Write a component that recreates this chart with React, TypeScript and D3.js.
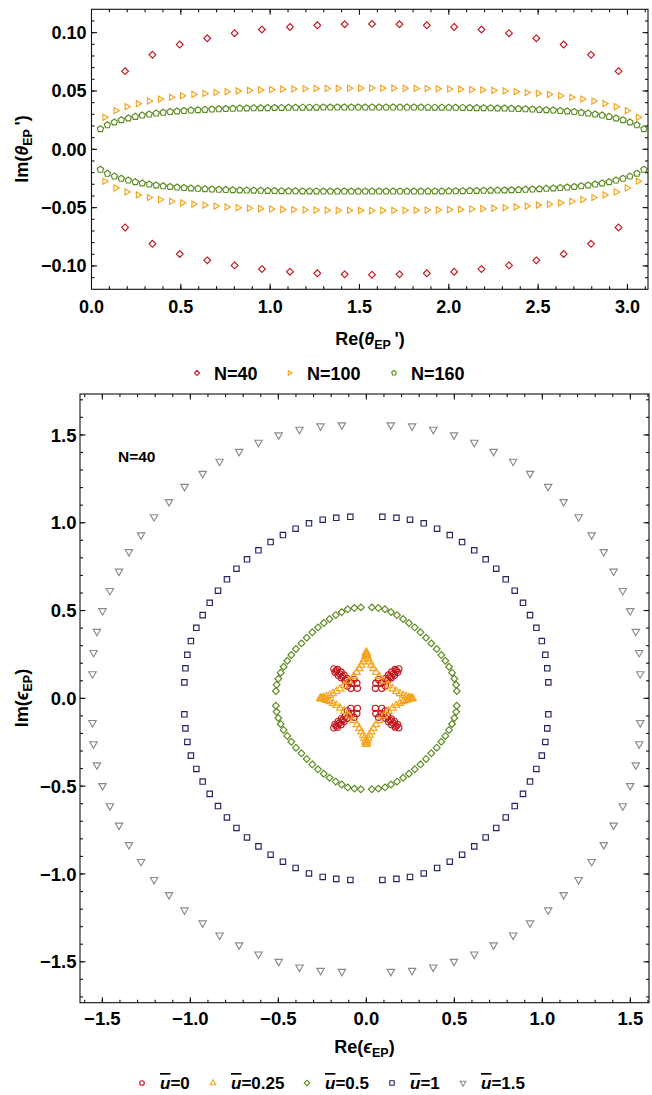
import React from 'react';
import * as d3 from 'd3';

const W = 652;
const H = 1095;
const FONT = '"Liberation Sans", Arial, Helvetica, sans-serif';

const RED = '#c4161c';
const ORANGE = '#f5a31c';
const GREEN = '#5a8a1f';
const NAVY = '#232562';
const GRAY = '#8a8a8a';

// ---------- Top chart: Re/Im of theta_EP' (upper branch; lower branch is the complex conjugate) ----------
const n40Re = [0.188, 0.341, 0.494, 0.648, 0.801, 0.954, 1.111, 1.264, 1.417, 1.570, 1.724, 1.877, 2.030, 2.183, 2.337, 2.490, 2.643, 2.796, 2.950];
const n40Im = [0.0670, 0.0810, 0.0898, 0.0952, 0.0995, 0.1027, 0.1049, 0.1063, 0.1072, 0.1075, 0.1072, 0.1063, 0.1049, 0.1027, 0.0995, 0.0952, 0.0898, 0.0810, 0.0670];

const n100Re = [0.077, 0.139, 0.201, 0.264, 0.326, 0.388, 0.450, 0.512, 0.575, 0.637, 0.699, 0.761, 0.823, 0.886, 0.948, 1.010, 1.072, 1.134, 1.197, 1.259, 1.321, 1.383, 1.446, 1.508, 1.570, 1.632, 1.694, 1.757, 1.819, 1.881, 1.943, 2.006, 2.068, 2.130, 2.192, 2.254, 2.317, 2.379, 2.441, 2.503, 2.565, 2.628, 2.690, 2.752, 2.814, 2.876, 2.939, 3.001, 3.063];
const n100Im = [0.0274, 0.0331, 0.0365, 0.0391, 0.0413, 0.0431, 0.0446, 0.0459, 0.0470, 0.0479, 0.0487, 0.0494, 0.0500, 0.0505, 0.0509, 0.0512, 0.0515, 0.0517, 0.0519, 0.0521, 0.0522, 0.0523, 0.0524, 0.0524, 0.0525, 0.0524, 0.0524, 0.0523, 0.0522, 0.0521, 0.0519, 0.0517, 0.0515, 0.0512, 0.0509, 0.0505, 0.0500, 0.0494, 0.0487, 0.0479, 0.0470, 0.0459, 0.0446, 0.0431, 0.0413, 0.0391, 0.0365, 0.0331, 0.0274];

const n160Re = [0.050, 0.089, 0.128, 0.167, 0.206, 0.245, 0.284, 0.323, 0.362, 0.401, 0.440, 0.479, 0.518, 0.557, 0.596, 0.635, 0.674, 0.713, 0.752, 0.791, 0.830, 0.869, 0.908, 0.947, 0.986, 1.025, 1.064, 1.103, 1.142, 1.181, 1.220, 1.259, 1.298, 1.337, 1.376, 1.415, 1.454, 1.493, 1.532, 1.571, 1.610, 1.649, 1.688, 1.727, 1.766, 1.805, 1.844, 1.883, 1.922, 1.961, 2.000, 2.039, 2.078, 2.117, 2.156, 2.195, 2.234, 2.273, 2.312, 2.351, 2.390, 2.429, 2.468, 2.507, 2.546, 2.585, 2.624, 2.663, 2.702, 2.741, 2.780, 2.819, 2.858, 2.897, 2.936, 2.975, 3.014, 3.053, 3.092];
const n160Im = [0.0174, 0.0208, 0.0232, 0.0251, 0.0266, 0.0280, 0.0291, 0.0300, 0.0308, 0.0315, 0.0321, 0.0326, 0.0330, 0.0334, 0.0337, 0.0340, 0.0343, 0.0345, 0.0347, 0.0349, 0.0351, 0.0352, 0.0353, 0.0354, 0.0355, 0.0356, 0.0357, 0.0358, 0.0358, 0.0359, 0.0359, 0.0359, 0.0360, 0.0360, 0.0360, 0.0360, 0.0360, 0.0360, 0.0360, 0.0360, 0.0360, 0.0360, 0.0360, 0.0360, 0.0360, 0.0360, 0.0360, 0.0359, 0.0359, 0.0359, 0.0358, 0.0358, 0.0357, 0.0356, 0.0355, 0.0354, 0.0353, 0.0352, 0.0351, 0.0349, 0.0347, 0.0345, 0.0343, 0.0340, 0.0337, 0.0334, 0.0330, 0.0326, 0.0321, 0.0315, 0.0308, 0.0300, 0.0291, 0.0280, 0.0266, 0.0251, 0.0232, 0.0208, 0.0174];

const topXTicks = [0, 0.5, 1, 1.5, 2, 2.5, 3];
const topXTickLabels = ['0.0', '0.5', '1.0', '1.5', '2.0', '2.5', '3.0'];
const topYTicks = [-0.1, -0.05, 0, 0.05, 0.1];
const topYTickLabels = ['\u22120.10', '\u22120.05', '0.00', '0.05', '0.10'];
const topLegend = ['N=40', 'N=100', 'N=160'];

// ---------- Bottom chart: eps_EP in the complex plane (first quadrant; spectrum symmetric under eps -> -eps, eps -> eps*) ----------
const u0Q: [number, number][] = [
  [0.098, 0.094], [0.110, 0.114], [0.121, 0.103], [0.126, 0.133], [0.142, 0.117], [0.135, 0.125],
  [0.144, 0.150], [0.160, 0.131], [0.153, 0.141], [0.164, 0.164], [0.178, 0.148], [0.171, 0.157], [0.185, 0.168],
  [0.054, 0.086], [0.083, 0.086], [0.051, 0.057], [0.088, 0.057], [0.069, 0.108], [0.108, 0.071],
];
const u025Q: [number, number][] = [
  [0.262, 0.001], [0.253, 0.002], [0.241, 0.005], [0.226, 0.011], [0.209, 0.018], [0.190, 0.028], [0.170, 0.040], [0.149, 0.055], [0.126, 0.073], [0.099, 0.099],
  [0.073, 0.126], [0.055, 0.149], [0.040, 0.170], [0.028, 0.190], [0.018, 0.209], [0.011, 0.226], [0.005, 0.241], [0.002, 0.253], [0.001, 0.262],
];
const u05Q: [number, number][] = [
  [0.031, 0.518], [0.068, 0.514], [0.106, 0.507], [0.140, 0.491], [0.174, 0.474], [0.209, 0.452], [0.242, 0.429], [0.275, 0.404], [0.307, 0.376], [0.339, 0.345],
  [0.369, 0.313], [0.400, 0.281], [0.426, 0.247], [0.449, 0.214], [0.470, 0.180], [0.487, 0.146], [0.500, 0.112], [0.510, 0.077], [0.514, 0.042],
];
const u1Q: [number, number][] = [
  [1.034, 0.091], [1.028, 0.171], [1.017, 0.248], [0.997, 0.326], [0.966, 0.402], [0.930, 0.474], [0.890, 0.544], [0.843, 0.613], [0.792, 0.678], [0.738, 0.738],
  [0.678, 0.792], [0.613, 0.843], [0.544, 0.890], [0.474, 0.930], [0.402, 0.966], [0.326, 0.997], [0.248, 1.017], [0.171, 1.028], [0.091, 1.034],
];
const u15Q: [number, number][] = [
  [1.556, 0.139], [1.550, 0.260], [1.531, 0.380], [1.499, 0.498], [1.457, 0.613], [1.405, 0.723], [1.349, 0.834], [1.280, 0.930], [1.206, 1.033], [1.121, 1.119],
  [1.033, 1.206], [0.930, 1.280], [0.834, 1.349], [0.723, 1.405], [0.613, 1.457], [0.498, 1.499], [0.380, 1.531], [0.260, 1.550], [0.139, 1.556],
];

const botTicks = [-1.5, -1, -0.5, 0, 0.5, 1, 1.5];
const botTickLabels = ['\u22121.5', '\u22121.0', '\u22120.5', '0.0', '0.5', '1.0', '1.5'];
const botLegend = ['0', '0.25', '0.5', '1', '1.5'];

type Shape = 'diamond' | 'triRight' | 'pentagon' | 'circle' | 'triUp' | 'square' | 'triDown';

function shapePath(shape: Shape, x: number, y: number, s: number): string {
  const p = d3.path();
  if (shape === 'diamond') {
    p.moveTo(x, y - s); p.lineTo(x + s, y); p.lineTo(x, y + s); p.lineTo(x - s, y); p.closePath();
  } else if (shape === 'triRight') {
    p.moveTo(x - 0.75 * s, y - s); p.lineTo(x + 0.95 * s, y); p.lineTo(x - 0.75 * s, y + s); p.closePath();
  } else if (shape === 'pentagon') {
    for (let k = 0; k < 5; k++) {
      const a = -Math.PI / 2 + (k * 2 * Math.PI) / 5;
      const px = x + s * Math.cos(a), py = y + s * Math.sin(a);
      if (k === 0) p.moveTo(px, py); else p.lineTo(px, py);
    }
    p.closePath();
  } else if (shape === 'circle') {
    p.moveTo(x + s, y); p.arc(x, y, s, 0, 2 * Math.PI);
  } else if (shape === 'triUp') {
    p.moveTo(x, y - 1.15 * s); p.lineTo(x + s, y + 0.6 * s); p.lineTo(x - s, y + 0.6 * s); p.closePath();
  } else if (shape === 'square') {
    p.rect(x - s, y - s, 2 * s, 2 * s);
  } else {
    p.moveTo(x - s, y - 0.6 * s); p.lineTo(x + s, y - 0.6 * s); p.lineTo(x, y + 1.15 * s); p.closePath();
  }
  return p.toString();
}

function Marker({ shape, x, y, s, color, sw = 1.15 }: { shape: Shape; x: number; y: number; s: number; color: string; sw?: number }) {
  return <path d={shapePath(shape, x, y, s)} fill="none" stroke={color} strokeWidth={sw} strokeLinejoin="miter" />;
}

function Frame({ xs, ys, xMajor, yMajor, xMinor, yMinor }: any) {
  const [x0, x1] = xs.range();
  const [y0, y1] = ys.range(); // y0 bottom, y1 top
  const M = 5.5, m = 3;
  const lines: JSX.Element[] = [];
  const addX = (v: number, len: number, key: string) => {
    const X = xs(v);
    if (X <= x0 + 0.5 || X >= x1 - 0.5) return;
    lines.push(<line key={'xb' + key} x1={X} x2={X} y1={y0} y2={y0 - len} />);
    lines.push(<line key={'xt' + key} x1={X} x2={X} y1={y1} y2={y1 + len} />);
  };
  const addY = (v: number, len: number, key: string) => {
    const Y = ys(v);
    if (Y >= y0 - 0.5 || Y <= y1 + 0.5) return;
    lines.push(<line key={'yl' + key} x1={x0} x2={x0 + len} y1={Y} y2={Y} />);
    lines.push(<line key={'yr' + key} x1={x1} x2={x1 - len} y1={Y} y2={Y} />);
  };
  xMinor.forEach((v: number, i: number) => addX(v, m, 'm' + i));
  xMajor.forEach((v: number, i: number) => addX(v, M, 'M' + i));
  yMinor.forEach((v: number, i: number) => addY(v, m, 'm' + i));
  yMajor.forEach((v: number, i: number) => addY(v, M, 'M' + i));
  return (
    <g stroke="#111" strokeWidth={1.1}>
      {lines}
      <rect x={x0} y={y1} width={x1 - x0} height={y0 - y1} fill="none" />
    </g>
  );
}

export default function App() {
  // top chart scales
  const tx = d3.scaleLinear().domain([0, 3.115]).range([91.5, 648]);
  const ty = d3.scaleLinear().domain([-0.12, 0.12]).range([289.3, 9.3]);
  // bottom chart scales
  const bx = d3.scaleLinear().domain([-1.627, 1.606]).range([80, 649]);
  const by = d3.scaleLinear().domain([-1.733, 1.733]).range([1002.7, 394]);

  const topSeries = [
    { re: n40Re, im: n40Im, shape: 'diamond' as Shape, s: 3.4, color: RED },
    { re: n100Re, im: n100Im, shape: 'triRight' as Shape, s: 3.1, color: ORANGE },
    { re: n160Re, im: n160Im, shape: 'pentagon' as Shape, s: 3.3, color: GREEN },
  ];

  const quad = (q: [number, number][]) =>
    [[1, 1], [-1, 1], [-1, -1], [1, -1]].flatMap(([sx, sy]) => q.map(([a, b]) => [sx * a, sy * b] as [number, number]));

  const botSeries = [
    { pts: quad(u0Q), shape: 'circle' as Shape, s: 3.1, color: RED },
    { pts: quad(u025Q), shape: 'triUp' as Shape, s: 3.6, color: ORANGE },
    { pts: quad(u05Q), shape: 'diamond' as Shape, s: 3.4, color: GREEN },
    { pts: quad(u1Q), shape: 'square' as Shape, s: 2.7, color: NAVY },
    { pts: quad(u15Q), shape: 'triDown' as Shape, s: 3.7, color: GRAY },
  ];
  const botLegendStyle = [
    { shape: 'circle' as Shape, color: RED, s: 2.3 },
    { shape: 'triUp' as Shape, color: ORANGE, s: 2.8 },
    { shape: 'diamond' as Shape, color: GREEN, s: 2.8 },
    { shape: 'square' as Shape, color: NAVY, s: 2.2 },
    { shape: 'triDown' as Shape, color: GRAY, s: 2.8 },
  ];
  const botLegendX = [142, 213, 307, 392, 463];
  const topLegendX = [197, 290, 394];

  return (
    <svg width={W} height={H} style={{ position: 'absolute', left: 0, top: 0, background: '#fff' }} fontFamily={FONT} fontWeight="bold">
      <rect x={0} y={0} width={W} height={H} fill="#fff" />
      {/* ===== Top chart ===== */}
      <g>
        {topSeries.map((sr, si) => (
          <g key={si}>
            {sr.re.map((r, i) => (
              <Marker key={'p' + i} shape={sr.shape} x={tx(r)} y={ty(sr.im[i])} s={sr.s} color={sr.color} />
            ))}
            {sr.re.map((r, i) => (
              <Marker key={'n' + i} shape={sr.shape} x={tx(r)} y={ty(-sr.im[i])} s={sr.s} color={sr.color} />
            ))}
          </g>
        ))}
        <Frame xs={tx} ys={ty} xMajor={topXTicks} yMajor={topYTicks}
          xMinor={d3.range(0, 3.15, 0.1)} yMinor={d3.range(-0.12, 0.1201, 0.01)} />
        <g fontSize={18} fill="#000">
          {topXTicks.map((v, i) => (
            <text key={i} x={tx(v)} y={313} textAnchor="middle">{topXTickLabels[i]}</text>
          ))}
          {topYTicks.map((v, i) => (
            <text key={i} x={86.5} y={ty(v)} dy="0.36em" textAnchor="end">{topYTickLabels[i]}</text>
          ))}
        </g>
        <text x={370} y={345} textAnchor="middle" fontSize={18}>
          Re(<tspan fontStyle="italic">θ</tspan><tspan fontSize={12.5} dy={4}>EP</tspan><tspan dy={-4}>{'\u2009\')'}</tspan>
        </text>
        <text transform="translate(28,149) rotate(-90)" textAnchor="middle" fontSize={18}>
          Im(<tspan fontStyle="italic">θ</tspan><tspan fontSize={12.5} dy={4}>EP</tspan><tspan dy={-4}>{'\u2009\')'}</tspan>
        </text>
        {/* legend */}
        {topSeries.map((sr, i) => (
          <g key={i}>
            <Marker shape={sr.shape} x={topLegendX[i]} y={373} s={sr.s * 0.75} color={sr.color} sw={1.1} />
            <text x={topLegendX[i] + 17} y={379.5} fontSize={18}>{topLegend[i]}</text>
          </g>
        ))}
      </g>

      {/* ===== Bottom chart ===== */}
      <g>
        {botSeries.map((sr, si) => (
          <g key={si}>
            {sr.pts.map(([a, b], i) => (
              <Marker key={i} shape={sr.shape} x={bx(a)} y={by(b)} s={sr.s} color={sr.color} />
            ))}
          </g>
        ))}
        <Frame xs={bx} ys={by} xMajor={botTicks} yMajor={botTicks}
          xMinor={d3.range(-1.6, 1.61, 0.1)} yMinor={d3.range(-1.7, 1.71, 0.1)} />
        <g fontSize={18.5} fill="#000">
          {botTicks.map((v, i) => (
            <text key={i} x={bx(v)} y={1025} textAnchor="middle">{botTickLabels[i]}</text>
          ))}
          {botTicks.map((v, i) => (
            <text key={i} x={76.5} y={by(v)} dy="0.36em" textAnchor="end">{botTickLabels[i]}</text>
          ))}
        </g>
        <text x={118} y={462} fontSize={15.5}>N=40</text>
        <text x={364.5} y={1053} textAnchor="middle" fontSize={18}>
          Re(<tspan fontStyle="italic">ϵ</tspan><tspan fontSize={12.5} dy={4}>EP</tspan><tspan dy={-4}>)</tspan>
        </text>
        <text transform="translate(28,698) rotate(-90)" textAnchor="middle" fontSize={18}>
          Im(<tspan fontStyle="italic">ϵ</tspan><tspan fontSize={12.5} dy={4}>EP</tspan><tspan dy={-4}>)</tspan>
        </text>
        {botLegend.map((lab, i) => (
          <g key={i}>
            <Marker shape={botLegendStyle[i].shape} x={botLegendX[i]} y={1083} s={botLegendStyle[i].s} color={botLegendStyle[i].color} sw={1.1} />
            <text x={botLegendX[i] + 18} y={1089} fontSize={17}>
              <tspan fontStyle="italic" textDecoration="overline">u</tspan>={lab}
            </text>
          </g>
        ))}
      </g>
    </svg>
  );
}
